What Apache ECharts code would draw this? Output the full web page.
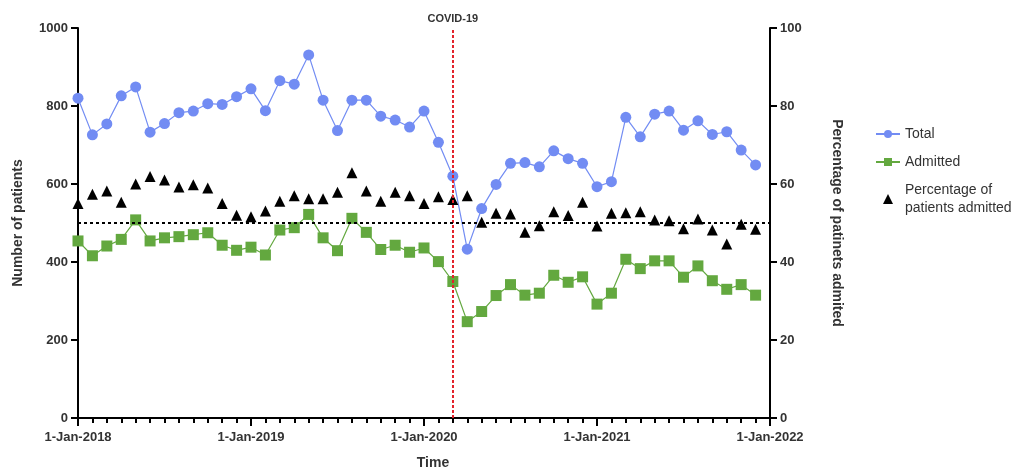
<!DOCTYPE html>
<html>
<head>
<meta charset="utf-8">
<script src="https://cdn.jsdelivr.net/npm/echarts@6/dist/echarts.min.js"></script>
<style>
  html, body { margin: 0; padding: 0; background: #fff; }
  #chart { width: 1033px; height: 469px; }
</style>
</head>
<body>
<div id="chart"></div>
<script>
// monthly values, Jan 2018 .. Dec 2021 (index 0 = Jan 2018)
var total = [820, 726, 754, 826, 849, 733, 755, 783, 787, 806, 804, 824,
             844, 788, 865, 856, 931, 815, 737, 815, 815, 774, 764, 746,
             787, 707, 620, 433, 537, 599, 653, 655, 644, 685, 665, 653,
             593, 606, 771, 721, 779, 787, 738, 762, 727, 734, 687, 649];
var admitted = [454, 416, 441, 458, 508, 454, 462, 465, 470, 475, 443, 430,
                438, 418, 482, 488, 522, 462, 429, 512, 476, 432, 443, 425,
                436, 401, 350, 247, 273, 314, 342, 315, 320, 366, 348, 362,
                292, 320, 407, 383, 403, 403, 361, 390, 352, 330, 342, 315];
var percentage = [55.0, 57.4, 58.2, 55.3, 60.0, 61.9, 61.0, 59.2, 59.8, 59.0, 55.0, 52.0,
                  51.6, 53.1, 55.6, 57.0, 56.2, 56.2, 57.9, 62.9, 58.2, 55.6, 57.9, 57.0,
                  55.0, 56.7, 56.0, 57.0, 50.2, 52.5, 52.3, 47.6, 49.3, 52.9, 51.9, 55.3,
                  49.2, 52.5, 52.6, 52.9, 50.8, 50.6, 48.5, 51.0, 48.2, 44.6, 49.7, 48.4];
var xTickLabels = ['1-Jan-2018', '1-Jan-2019', '1-Jan-2020', '1-Jan-2021', '1-Jan-2022'];
var covidMonth = 26;   // 1-Mar-2020
var refPercent = 50;

function toPoints(arr) {
    return arr.map(function (v, i) { return [i, v]; });
}

var font = 'Arial, "Liberation Sans", sans-serif';
var axisText = { color: '#333', fontWeight: 'bold', fontSize: 13, fontFamily: font };
var pctName = 'Percentage of\npatients admitted';

var chart = echarts.init(document.getElementById('chart'));
var option = {
    animation: false,
    textStyle: { fontFamily: font },
    grid: { left: 78, right: 263, top: 28, bottom: 51, outerBoundsMode: 'none', containLabel: false },
    legend: {
        orient: 'vertical',
        left: 870,
        top: 120,
        itemGap: 10,
        itemWidth: 24,
        itemHeight: 10,
        textStyle: { color: '#333', fontSize: 14, fontFamily: font, lineHeight: 18 },
        data: ['Total', 'Admitted', { name: pctName, icon: 'path://M0,10L5,0L10,10Z' }]
    },
    xAxis: {
        type: 'value',
        min: 0,
        max: 48,
        interval: 12,
        name: 'Time',
        nameLocation: 'middle',
        nameGap: 38,
        nameTextStyle: { color: '#333', fontWeight: 'bold', fontSize: 14, padding: [0, 0, 0, 18] },
        axisLine: { show: true, onZero: false, lineStyle: { color: '#000', width: 2 } },
        axisTick: { show: true, length: 8, lineStyle: { color: '#000', width: 2 } },
        minorTick: { show: true, splitNumber: 12, length: 5, lineStyle: { color: '#000', width: 2 } },
        splitLine: { show: false },
        axisLabel: Object.assign({ margin: 13, formatter: function (v) { return xTickLabels[v / 12]; } }, axisText)
    },
    yAxis: [{
        type: 'value',
        min: 0,
        max: 1000,
        interval: 200,
        name: 'Number of patients',
        nameLocation: 'middle',
        nameGap: 53,
        nameTextStyle: { color: '#333', fontWeight: 'bold', fontSize: 14 },
        axisLine: { show: true, lineStyle: { color: '#000', width: 2 } },
        axisTick: { show: true, length: 7, lineStyle: { color: '#000', width: 2 } },
        splitLine: { show: false },
        axisLabel: Object.assign({ margin: 10, formatter: function (v) { return String(v); } }, axisText)
    }, {
        type: 'value',
        min: 0,
        max: 100,
        interval: 20,
        position: 'right',
        name: 'Percentage of patinets admited',
        nameLocation: 'middle',
        nameRotate: -90,
        nameGap: 60,
        nameTextStyle: { color: '#333', fontWeight: 'bold', fontSize: 14 },
        axisLine: { show: true, lineStyle: { color: '#000', width: 2 } },
        axisTick: { show: true, length: 7, lineStyle: { color: '#000', width: 2 } },
        splitLine: { show: false },
        axisLabel: Object.assign({ margin: 10 }, axisText)
    }],
    series: [{
        name: 'Total',
        type: 'line',
        data: toPoints(total),
        symbol: 'circle',
        symbolSize: 11,
        clip: false,
        itemStyle: { color: '#728cf3', opacity: 1 },
        lineStyle: { color: '#728cf3', width: 1.2 },
        z: 3,
        markLine: {
            silent: true,
            symbol: 'none',
            lineStyle: { color: '#e3232b', type: [3, 2], width: 2 },
            label: {
                show: true,
                position: 'end',
                formatter: 'COVID-19',
                color: '#333',
                fontWeight: 'bold',
                fontSize: 11,
                distance: 4
            },
            data: [{ xAxis: covidMonth }]
        }
    }, {
        name: 'Admitted',
        type: 'line',
        data: toPoints(admitted),
        symbol: 'rect',
        symbolSize: 11,
        clip: false,
        itemStyle: { color: '#63a83f', opacity: 1 },
        lineStyle: { color: '#63a83f', width: 1.2 },
        z: 3
    }, {
        name: pctName,
        type: 'scatter',
        yAxisIndex: 1,
        data: toPoints(percentage),
        symbol: 'triangle',
        symbolSize: 11,
        clip: false,
        itemStyle: { color: '#000', opacity: 1 },
        z: 4,
        markLine: {
            silent: true,
            symbol: 'none',
            label: { show: false },
            lineStyle: { color: '#000', type: [3, 3], width: 2 },
            data: [{ yAxis: refPercent }]
        }
    }]
};
chart.setOption(option);
</script>
</body>
</html>
